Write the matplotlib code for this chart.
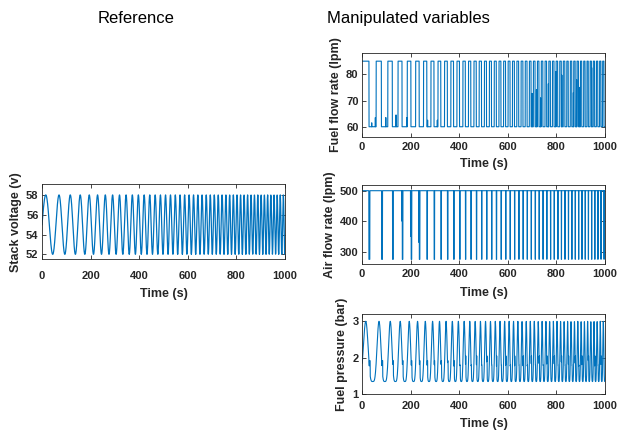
import numpy as np
import matplotlib
matplotlib.use("Agg")
import matplotlib.pyplot as plt

plt.rcParams['font.family'] = ['Liberation Sans', 'DejaVu Sans']

# ---- values ----
t_end = 1000.0
dt = 0.5
ref_center = 55.0        # stack voltage mid level (V)
ref_amp = 3.0            # swings 52 .. 58
chirp_f0 = 0.0156        # Hz at t = 0  (first periods ~ 52 s)
chirp_f1 = 0.080         # Hz at t = 1000 (last periods ~ 12.5 s)

fuel_levels = [60.0, 85.0]          # low / high fuel flow (lpm)
fuel_high_phase = [0.02, 0.45]      # part of each reference cycle at high fuel
fuel_spike_t = [40, 55, 98, 140, 185, 230, 270, 310, 700, 718, 735, 767, 798, 822, 845, 870, 883, 897, 918, 945, 966, 979, 990]
fuel_spike_v = [61.5, 63.5, 63.5, 64.5, 63.5, 63, 62.5, 62.5, 72.7, 74.2, 71, 76.4, 81, 79.7, 77, 73, 78, 75, 81, 82.5, 82, 75, 80]

air_levels = [275.0, 500.0]         # dip level / normal level (lpm)
air_dip_phase = [0.47, 0.54]
air_partial_t = [165, 200, 235]
air_partial_v = [400, 350, 330]

pressure_range = [1.35, 3.0]        # bar
pressure_shape = 2.0
shoulder_phase = [0.5, 0.56]
shoulder_levels = [1.92, 2.05, 1.8]

# ---- build signals ----
t = np.arange(0, t_end + dt, dt)
phase = chirp_f0 * t + (chirp_f1 - chirp_f0) * t ** 2 / (2 * t_end)
frac = phase % 1.0
cyc = np.floor(phase).astype(int)

voltage = ref_center + ref_amp * np.sin(2 * np.pi * phase)

fuel = np.where((frac >= fuel_high_phase[0]) & (frac < fuel_high_phase[1]), fuel_levels[1], fuel_levels[0])
fuel[t < 29] = fuel_levels[1]
for ts, vs in zip(fuel_spike_t, fuel_spike_v):
    i = int(round(ts / dt))
    if fuel[i] == fuel_levels[0]:
        fuel[i] = vs

air = np.where((frac >= air_dip_phase[0]) & (frac < air_dip_phase[1]), air_levels[0], air_levels[1])
for ts, vs in zip(air_partial_t, air_partial_v):
    i = int(round(ts / dt))
    air[i] = vs

base = ((1 + np.sin(2 * np.pi * phase)) / 2) ** pressure_shape
pressure = pressure_range[0] + (pressure_range[1] - pressure_range[0]) * base
sh = (frac >= shoulder_phase[0]) & (frac < shoulder_phase[1])
lev = np.array(shoulder_levels)[np.where(t < 400, 0, 1 + (cyc % 2))]
pressure = np.where(sh, lev, pressure)
pressure[t < 3] = np.maximum(pressure[t < 3], 1.85)

# ---- figure ----
W, H = 618, 433
fig = plt.figure(figsize=(W / 100, H / 100), dpi=100)
col = '#0072BD'
fc = '#262626'

def add_ax(l, r, top, bot):
    return fig.add_axes([l / W, 1 - bot / H, (r - l) / W, (bot - top) / H])

def style(ax, ylabel, ylim, yticks, xpad, xlabpad):
    ax.set_xlim(0, 1000)
    ax.set_xticks([0, 200, 400, 600, 800, 1000])
    ax.set_ylim(*ylim)
    ax.set_yticks(yticks)
    ax.tick_params(direction='in', top=True, right=True, length=3, width=0.6,
                   labelsize=8, colors=fc, pad=2.5)
    ax.tick_params(axis='x', pad=xpad)
    for lab in ax.get_xticklabels() + ax.get_yticklabels():
        lab.set_fontweight('bold')
    for s in ax.spines.values():
        s.set_linewidth(0.6)
        s.set_color(fc)
    ax.set_xlabel('Time (s)', fontsize=9, fontweight='bold', color=fc, labelpad=xlabpad)
    ax.set_ylabel(ylabel, fontsize=9, fontweight='bold', color=fc, labelpad=3)

ax0 = add_ax(42, 285, 184, 259.3)
ax0.plot(t, voltage, color=col, lw=0.9)
style(ax0, 'Stack voltage (v)', (51.5, 59.1), [52, 54, 56, 58], 8.5, 5.0)

ax1 = add_ax(362, 605, 53.3, 136.7)
ax1.plot(t, fuel, color=col, lw=0.8)
style(ax1, 'Fuel flow rate (lpm)', (56.2, 88), [60, 70, 80], 3.8, 4.0)

ax2 = add_ax(362, 605, 184.6, 263.9)
ax2.plot(t, air, color=col, lw=0.8)
style(ax2, 'Air flow rate (lpm)', (260, 520), [300, 400, 500], 3.8, 5.5)

ax3 = add_ax(362, 605, 314, 394.3)
ax3.plot(t, pressure, color=col, lw=0.8)
style(ax3, 'Fuel pressure (bar)', (1, 3.2), [1, 2, 3], 5.0, 5.0)

fig.text(136 / W, 1 - 23 / H, 'Reference', ha='center', va='baseline', fontsize=12, color='black')
fig.text(408 / W, 1 - 23 / H, 'Manipulated variables', ha='center', va='baseline', fontsize=12, color='black')

fig.savefig('out.png', dpi=100)
